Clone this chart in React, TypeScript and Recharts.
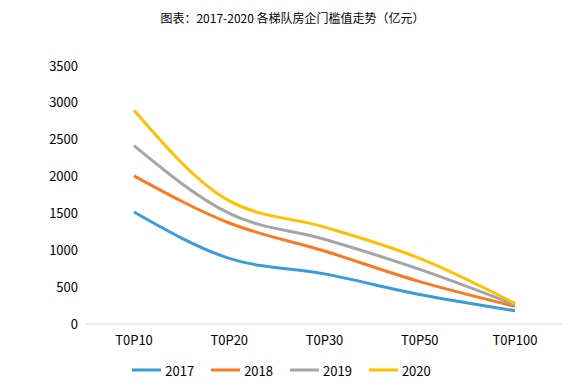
import { LineChart, Line, XAxis, YAxis, Legend } from "recharts";

const categories = ["T0P10", "T0P20", "T0P30", "T0P50", "T0P100"];
const s2017 = [1520, 890, 680, 400, 180];
const s2018 = [2010, 1370, 990, 575, 240];
const s2019 = [2420, 1500, 1150, 740, 260];
const s2020 = [2900, 1670, 1315, 890, 280];
const yTicks = [0, 500, 1000, 1500, 2000, 2500, 3000, 3500];

const series = [
  { key: "2017", color: "#3C9BD9" },
  { key: "2018", color: "#FA7A22" },
  { key: "2019", color: "#A5A5A5" },
  { key: "2020", color: "#FFC000" },
];

const data = categories.map((c, i) => ({
  name: c,
  "2017": s2017[i],
  "2018": s2018[i],
  "2019": s2019[i],
  "2020": s2020[i],
}));

const font = "'Noto Sans CJK SC', 'Noto Sans', sans-serif";

function LegendBox() {
  return (
    <div
      style={{
        display: "flex",
        justifyContent: "center",
        height: 24,
        alignItems: "center",
        fontFamily: font,
        fontSize: 13,
        color: "#000",
      }}
    >
      {series.map((s, i) => (
        <div
          key={s.key}
          style={{ display: "flex", alignItems: "center", marginLeft: i === 0 ? 0 : 17 }}
        >
          <svg width={29} height={4} style={{ marginRight: 4 }}>
            <line x1={0} y1={2} x2={29} y2={2} stroke={s.color} strokeWidth={3} />
          </svg>
          <span>{s.key}</span>
        </div>
      ))}
    </div>
  );
}

export default function App() {
  return (
    <div style={{ position: "absolute", left: 0, top: 0, width: 585, height: 388, background: "#fff" }}>
      <div
        style={{
          position: "absolute",
          top: 9,
          left: 0,
          width: 585,
          textAlign: "center",
          fontFamily: font,
          fontSize: 12,
          color: "#000",
        }}
      >
        图表：2017-2020 各梯队房企门槛值走势（亿元）
      </div>
      <LineChart
        width={585}
        height={388}
        data={data}
        margin={{ top: 66, right: 22, left: 0, bottom: 6 }}
      >
        <XAxis
          dataKey="name"
          axisLine={{ stroke: "#D9D9D9" }}
          tickLine={false}
          tick={{ fill: "#000", fontSize: 13, fontFamily: font }}
          tickMargin={6}
          height={34}
          padding={{ left: 48, right: 48 }}
        />
        <YAxis
          domain={[0, 3500]}
          ticks={yTicks}
          axisLine={false}
          tickLine={false}
          width={86}
          tick={{ fill: "#000", fontSize: 13, fontFamily: font }}
        />
        <Legend verticalAlign="bottom" content={() => <LegendBox />} />
        {series.map((s) => (
          <Line
            key={s.key}
            type="monotone"
            dataKey={s.key}
            stroke={s.color}
            strokeWidth={3}
            dot={false}
            isAnimationActive={false}
          />
        ))}
      </LineChart>
    </div>
  );
}
